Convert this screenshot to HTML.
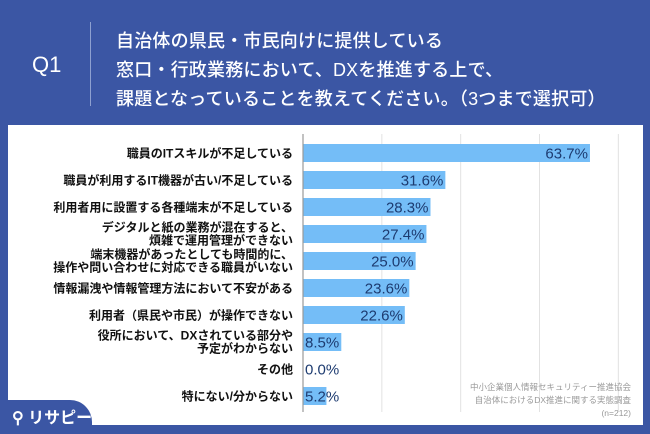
<!DOCTYPE html>
<html><head><meta charset="utf-8"><style>
body{margin:0;width:650px;height:434px;overflow:hidden;background:#3b56a4;font-family:"Liberation Sans","Noto Sans CJK JP",sans-serif;}
#wrap{position:relative;width:650px;height:434px;}
.q{position:absolute;left:32px;top:52px;color:#fff;font-size:22px;font-weight:500;}
.div{position:absolute;left:90px;top:22px;width:1px;height:84px;background:#8ea0d0;}
.t{position:absolute;left:116px;top:27px;color:#fff;font-size:18px;line-height:29px;font-weight:500;white-space:nowrap;letter-spacing:0.2px;}
#panel{position:absolute;left:8px;top:125px;width:635px;height:300px;background:#fff;}
#corner{position:absolute;left:0;top:400px;width:92px;height:34px;background:#3b56a4;border-top-right-radius:22px;}
.logo{position:absolute;left:12px;top:404px;color:#fff;font-size:16px;font-weight:bold;}
svg{position:absolute;left:0;top:0;}
</style></head><body><div id="wrap">
<div class="q">Q1</div>
<div class="div"></div>
<div class="t">自治体の県民・市民向けに提供している<br>窓口・行政業務において、DXを推進する上で、<br>課題となっていることを教えてください。（3つまで選択可）</div>
<div id="panel"></div>
<svg id="chart" width="650" height="434"></svg>
<div id="corner"></div>
<div class="logo">⚲ リサピー</div>
</div>
<script>
const categories=[["職員のITスキルが不足している"],["職員が利用するIT機器が古い/不足している"],["利用者用に設置する各種端末が不足している"],["デジタルと紙の業務が混在すると、","煩雑で運用管理ができない"],["端末機器があったとしても時間的に、","操作や問い合わせに対応できる職員がいない"],["情報漏洩や情報管理方法において不安がある"],["利用者（県民や市民）が操作できない"],["役所において、DXされている部分や","予定がわからない"],["その他"],["特にない/分からない"]];
const values=[63.7,31.6,28.3,27.4,25.0,23.6,22.6,8.5,0.0,5.2];
const gridSteps=[1,2,3,4];
const NS="http://www.w3.org/2000/svg";
const svg=document.getElementById('chart');
const x0=303,pxPer=4.505,y0=144,pitch=27,bh=18;
const xs=v=>x0+v*pxPer;
const ys=i=>y0+i*pitch;
function mk(t,a){const e=document.createElementNS(NS,t);for(const k in a)e.setAttribute(k,a[k]);svg.appendChild(e);return e;}
gridSteps.forEach(g=>{const l=mk('line',{x1:xs(g*17.5),x2:xs(g*17.5),y1:134,y2:412,stroke:'#e2e2e2','stroke-width':1});

});
values.forEach((v,i)=>{
const r=mk('rect',{x:x0,y:ys(i),width:Math.max(v*pxPer,0),height:bh,fill:'#74bdf7'});


const tx=mk('text',{x:v<12?x0+2:xs(v)-2,y:ys(i)+14.5,'text-anchor':v<12?'start':'end','font-size':15,fill:'#1d3b70','font-family':'Liberation Sans,sans-serif'});
tx.textContent=v.toFixed(1)+'%';


const lines=categories[i];
lines.forEach((s,j)=>{
const cy=ys(i)+bh/2+4.5+(lines.length==2?(j?6:-7):0);
const lt=mk('text',{x:293,y:cy,'text-anchor':'end','font-size':12,'font-weight':'bold',fill:'#111','font-family':'Liberation Sans,Noto Sans CJK JP,sans-serif'});
lt.textContent=s;

});
});
const ax=mk('line',{x1:x0,x2:x0,y1:134,y2:412,stroke:'#999','stroke-width':1.2});


[["中小企業個人情報セキュリティー推進協会",390],["自治体におけるDX推進に関する実態調査",403],["(n=212)",416]].forEach(([s,y])=>{
const t=mk('text',{x:631,y:y,'text-anchor':'end','font-size':8.5,fill:'#999','font-family':'Liberation Sans,Noto Sans CJK JP,sans-serif'});
t.textContent=s;

});
</script></body></html>
